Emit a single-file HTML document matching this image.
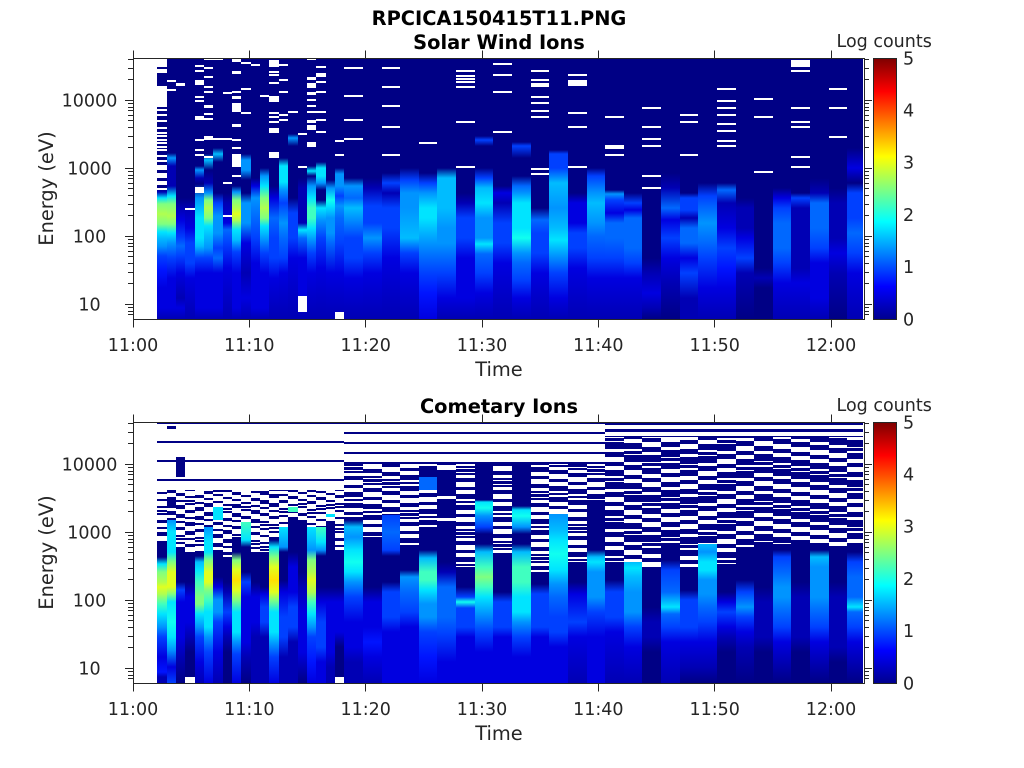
<!DOCTYPE html>
<html><head><meta charset="utf-8"><style>
html,body{margin:0;padding:0}
body{width:1024px;height:768px;position:relative;background:#fff;overflow:hidden}
.P{position:absolute;left:0;width:1024px;height:261px}
.P i{position:absolute;top:0;height:261px;display:block}
.bn{background:var(--c),repeating-linear-gradient(#000085 0 2px,#fff 2px 19px) 0 0/100% 68px no-repeat,repeating-linear-gradient(#000085 0 2px,#0000 2px 11px) 0 var(--p,0px),repeating-linear-gradient(#000085 0 2px,#fff 2px 7px) 0 var(--q,0px)}
.bw{background:var(--c),repeating-linear-gradient(#000085 0 2px,#fff 2px 10px) 0 0/100% 42px no-repeat,repeating-linear-gradient(#000085 0 3px,#0000 3px 9px) 0 var(--p,0px),repeating-linear-gradient(#000085 0 2px,#fff 2px 7px) 0 var(--q,0px)}
.bx{background:var(--c),repeating-linear-gradient(#000085 0 3px,#fff 3px 7px) 0 0/100% 15px no-repeat,repeating-linear-gradient(#000085 0 4px,#0000 4px 10px) 0 var(--p,0px),repeating-linear-gradient(#000085 0 3px,#fff 3px 8px) 0 var(--q,0px)}
.cb{position:absolute;left:873px;width:24px;height:262px;box-sizing:border-box;border:1px solid #262626;background:linear-gradient(to top,#00008f 0%,#0000ff 12.5%,#00ffff 37.5%,#ffff00 62.5%,#ff0000 87.5%,#800000 100%)}
svg{position:absolute;left:0;top:0}
text{font-family:"DejaVu Sans","Liberation Sans",sans-serif;fill:#262626}
.tt{font-weight:bold;font-size:19.4px;fill:#000;text-anchor:middle}
.tk{font-size:17.5px;text-anchor:middle}
.lb{font-size:19.4px;text-anchor:middle}
.cl{font-size:17.5px}
</style></head><body>

<div class="P" style="top:58px">
<i style="left:157px;width:10px;background:linear-gradient(#fff 0 9px,#0000 9px 11px,#fff 11px 15px,#0000 15px 28px,#fff 28px 49px,#0000 49px 51px,#fff 51px 53px,#0000 53px 56px,#fff 56px 58px,#0000 58px 62px,#fff 62px 64px,#0000 64px 69px,#fff 69px 71px,#0000 71px 74px,#fff 74px 76px,#0000 76px 77px,#fff 77px 79px,#0000 79px 81px,#fff 81px 83px,#0000 83px 84px,#fff 84px 86px,#0000 86px 88px,#fff 88px 90px,#0000 90px 91px,#fff 91px 93px,#0000 93px 97px,#fff 97px 99px,#0000 99px 102px,#fff 102px 104px,#0000 104px 107px,#fff 107px 112px,#0000 112px 115px,#fff 115px 120px,#0000 120px 123px,#fff 123px 127px,#0000 127px 130px,#fff 130px 132px,#0000 132px),linear-gradient(#000085 0 130px,#0000b4 134px,#00e4ff 140px,#80ff80 146px,#b0ff50 156px,#80ff80 166px,#00e4ff 174px,#00bcff 180px,#0094ff 188px,#0040ff 198px,#0014ff 212px,#0000e0 230px,#0000e0 250px,#0000b4 261px)"></i>
<i style="left:167px;width:9px;background:linear-gradient(#0000 0 22px,#fff 22px 24px,#0000 24px 31px,#fff 31px 33px,#0000 33px),linear-gradient(#000085 0 95px,#0094ff 100px,#0000b4 108px,#0000b4 128px,#00e4ff 138px,#80ff80 146px,#b0ff50 158px,#80ff80 166px,#00e4ff 175px,#0094ff 185px,#0040ff 200px,#0000e0 220px,#0000e0 250px,#0000b4 261px)"></i>
<i style="left:176px;width:9px;background:linear-gradient(#0000 0 25px,#fff 25px 28px,#0000 28px),linear-gradient(#000085 0 140px,#0000b4 150px,#0000e0 162px,#0040ff 180px,#0068ff 188px,#0040ff 198px,#0000e0 215px,#0000b4 240px,#0000e0 250px,#0000b4 261px)"></i>
<i style="left:185px;width:10px;background:linear-gradient(#0000 0 150px,#fff 150px 152px,#0000 152px),linear-gradient(#000085 0 140px,#0000b4 150px,#0000e0 170px,#0040ff 185px,#0040ff 205px,#0000e0 220px,#0000b4 261px)"></i>
<i style="left:195px;width:9px;background:linear-gradient(#0000 0 7px,#fff 7px 9px,#0000 9px 12px,#fff 12px 14px,#0000 14px 22px,#fff 22px 27px,#0000 27px 38px,#fff 38px 40px,#0000 40px 42px,#fff 42px 44px,#0000 44px 58px,#fff 58px 62px,#0000 62px 81px,#fff 81px 83px,#0000 83px 91px,#fff 91px 93px,#0000 93px 96px,#fff 96px 98px,#0000 98px 129px,#fff 129px 135px,#0000 135px),linear-gradient(#000085 0 108px,#0094ff 112px,#0000b4 120px,#000085 126px,#0094ff 140px,#00bcff 150px,#00e4ff 160px,#00e4ff 180px,#00bcff 188px,#0040ff 200px,#0000e0 215px,#0000e0 250px,#0000b4 261px)"></i>
<i style="left:204px;width:9px;background:linear-gradient(#fff 0 2px,#0000 2px 9px,#fff 9px 11px,#0000 11px 18px,#fff 18px 20px,#0000 20px 28px,#fff 28px 30px,#0000 30px 33px,#fff 33px 35px,#0000 35px 47px,#fff 47px 50px,#0000 50px 55px,#fff 55px 57px,#0000 57px 60px,#fff 60px 62px,#0000 62px 78px,#fff 78px 82px,#0000 82px 98px,#fff 98px 100px,#0000 100px),linear-gradient(#000085 0 96px,#00bcff 102px,#000085 112px,#0000b4 125px,#0094ff 135px,#80ff80 142px,#b0ff50 150px,#80ff80 160px,#00e4ff 168px,#00bcff 178px,#0094ff 190px,#0040ff 200px,#0000e0 215px,#0000e0 250px,#0000b4 261px)"></i>
<i style="left:213px;width:10px;background:linear-gradient(#fff 0 2px,#0000 2px 80px,#fff 80px 82px,#0000 82px),linear-gradient(#000085 0 90px,#00bcff 96px,#000085 104px 135px,#0040ff 145px,#0094ff 158px,#0094ff 175px,#0040ff 190px,#0068ff 200px,#0000e0 215px,#0000e0 250px,#0000b4 261px)"></i>
<i style="left:223px;width:9px;background:linear-gradient(#0000 0 34px,#fff 34px 36px,#0000 36px 80px,#fff 80px 82px,#0000 82px 124px,#fff 124px 126px,#0000 126px 157px,#fff 157px 159px,#0000 159px),linear-gradient(#000085 0 135px,#0000b4 145px,#0000e0 165px,#0068ff 172px,#0040ff 185px,#0000e0 210px,#0000b4 261px)"></i>
<i style="left:232px;width:9px;background:linear-gradient(#fff 0 4px,#0000 4px 13px,#fff 13px 16px,#0000 16px 33px,#fff 33px 35px,#0000 35px 38px,#fff 38px 41px,#0000 41px 45px,#fff 45px 54px,#0000 54px 66px,#fff 66px 69px,#0000 69px 81px,#fff 81px 83px,#0000 83px 89px,#fff 89px 91px,#0000 91px 96px,#fff 96px 109px,#0000 109px 117px,#fff 117px 119px,#0000 119px),linear-gradient(#000085 0 128px,#0094ff 134px,#80ff80 142px,#b0ff50 150px,#e0ff20 156px,#b0ff50 162px,#00e4ff 172px,#00bcff 182px,#0040ff 194px,#0000e0 215px,#0000e0 250px,#0000b4 261px)"></i>
<i style="left:241px;width:10px;background:linear-gradient(#0000 0 4px,#fff 4px 6px,#0000 6px 30px,#fff 30px 32px,#0000 32px 54px,#fff 54px 56px,#0000 56px),linear-gradient(#000085 0 96px,#0094ff 102px,#0094ff 112px,#000085 122px 135px,#0094ff 145px,#0094ff 165px,#0000e0 185px,#0000b4 215px,#0000e0 240px,#0000b4 261px)"></i>
<i style="left:251px;width:9px;background:linear-gradient(#0000 0 6px,#fff 6px 8px,#0000 8px),linear-gradient(#000085 0 120px,#0000e0 128px,#0094ff 140px,#0068ff 160px,#0040ff 180px,#0000e0 205px,#0000e0 250px,#0000b4 261px)"></i>
<i style="left:260px;width:9px;background:linear-gradient(#0000 0 37px,#fff 37px 39px,#0000 39px),linear-gradient(#000085 0 110px,#0094ff 118px,#00e4ff 128px,#80ff80 140px,#b0ff50 150px,#80ff80 160px,#00e4ff 168px,#00bcff 175px,#0040ff 195px,#0000e0 215px,#0000e0 250px,#0000b4 261px)"></i>
<i style="left:269px;width:10px;background:linear-gradient(#0000 0 2px,#fff 2px 9px,#0000 9px 13px,#fff 13px 15px,#0000 15px 16px,#fff 16px 18px,#0000 18px 24px,#fff 24px 26px,#0000 26px 38px,#fff 38px 44px,#0000 44px 54px,#fff 54px 56px,#0000 56px 58px,#fff 58px 60px,#0000 60px 63px,#fff 63px 65px,#0000 65px 70px,#fff 70px 75px,#0000 75px 94px,#fff 94px 100px,#0000 100px),linear-gradient(#000085 0 128px,#0000e0 140px,#0068ff 160px,#0040ff 180px,#0040ff 200px,#0000e0 220px,#0000b4 261px)"></i>
<i style="left:279px;width:9px;background:linear-gradient(#0000 0 6px,#fff 6px 8px,#0000 8px 21px,#fff 21px 23px,#0000 23px 33px,#fff 33px 35px,#0000 35px 56px,#fff 56px 58px,#0000 58px 61px,#fff 61px 63px,#0000 63px),linear-gradient(#000085 0 100px,#00e4ff 108px,#00e4ff 124px,#0094ff 132px,#0040ff 145px,#0094ff 165px,#0068ff 180px,#0040ff 200px,#0000e0 215px,#0000b4 261px)"></i>
<i style="left:288px;width:10px;background:linear-gradient(#0000 0 53px,#fff 53px 55px,#0000 55px),linear-gradient(#000085 0 76px,#0094ff 80px,#000085 88px 140px,#0040ff 155px,#0040ff 180px,#0000e0 200px,#0000b4 261px)"></i>
<i style="left:298px;width:9px;background:linear-gradient(#0000 0 75px,#fff 75px 77px,#0000 77px 108px,#fff 108px 110px,#0000 110px 238px,#fff 238px 254px,#0000 254px),linear-gradient(#000085 0 120px,#0000b4 130px,#0000b4 165px,#00e4ff 172px,#0068ff 180px,#0000e0 200px,#0000e0 235px,#0000b4 261px)"></i>
<i style="left:307px;width:9px;background:linear-gradient(#fff 0 2px,#0000 2px 19px,#fff 19px 22px,#0000 22px 25px,#fff 25px 30px,#0000 30px 34px,#fff 34px 37px,#0000 37px 41px,#fff 41px 43px,#0000 43px 47px,#fff 47px 49px,#0000 49px 53px,#fff 53px 55px,#0000 55px 62px,#fff 62px 65px,#0000 65px 67px,#fff 67px 72px,#0000 72px 84px,#fff 84px 89px,#0000 89px),linear-gradient(#000085 0 108px,#00e4ff 113px,#000085 118px,#0094ff 128px,#00e4ff 140px,#40ffc0 150px,#40ffc0 160px,#00e4ff 170px,#0094ff 182px,#0040ff 195px,#0000e0 215px,#0000b4 261px)"></i>
<i style="left:316px;width:10px;background:linear-gradient(#0000 0 8px,#fff 8px 10px,#0000 10px 15px,#fff 15px 19px,#0000 19px 23px,#fff 23px 25px,#0000 25px 33px,#fff 33px 35px,#0000 35px 53px,#fff 53px 55px,#0000 55px 61px,#fff 61px 63px,#0000 63px 73px,#fff 73px 75px,#0000 75px),linear-gradient(#000085 0 104px,#00e4ff 110px,#00e4ff 118px,#0094ff 125px,#000085 132px 142px,#00e4ff 150px,#0094ff 162px,#0040ff 180px,#0000e0 210px,#0000b4 261px)"></i>
<i style="left:326px;width:9px;background:linear-gradient(#000085 0 122px,#0094ff 130px,#10fff0 142px,#00e4ff 148px,#0094ff 160px,#0094ff 175px,#0068ff 185px,#0000e0 215px,#0000b4 261px)"></i>
<i style="left:335px;width:9px;background:linear-gradient(#0000 0 82px,#fff 82px 84px,#0000 84px 96px,#fff 96px 98px,#0000 98px 254px,#fff 254px),linear-gradient(#000085 0 110px,#0094ff 116px,#0094ff 128px,#0040ff 138px,#0094ff 148px,#0068ff 160px,#0040ff 185px,#0000e0 215px,#0000b4 261px)"></i>
<i style="left:344px;width:19px;background:linear-gradient(#0000 0 9px,#fff 9px 11px,#0000 11px 37px,#fff 37px 39px,#0000 39px 61px,#fff 61px 63px,#0000 63px 80px,#fff 80px 82px,#0000 82px),linear-gradient(#000085 0 120px,#0094ff 128px,#0068ff 140px,#00bcff 150px,#0094ff 160px,#0040ff 180px,#0040ff 200px,#0000e0 220px,#0000b4 261px)"></i>
<i style="left:363px;width:19px;background:linear-gradient(#000085 0 120px,#0000b4 130px,#0040ff 148px,#0040ff 165px,#0094ff 180px,#0040ff 195px,#0000e0 215px,#0000b4 261px)"></i>
<i style="left:382px;width:18px;background:linear-gradient(#0000 0 9px,#fff 9px 11px,#0000 11px 28px,#fff 28px 30px,#0000 30px 47px,#fff 47px 49px,#0000 49px 68px,#fff 68px 70px,#0000 70px 96px,#fff 96px 98px,#0000 98px),linear-gradient(#000085 0 115px,#0040ff 125px,#0000b4 135px,#0040ff 150px,#0040ff 170px,#0000e0 200px,#0000b4 261px)"></i>
<i style="left:400px;width:19px;background:linear-gradient(#000085 0 110px,#0040ff 122px,#0094ff 135px,#0094ff 150px,#00bcff 180px,#0040ff 195px,#0000e0 215px,#0000b4 261px)"></i>
<i style="left:419px;width:18px;background:linear-gradient(#0000 0 84px,#fff 84px 86px,#0000 86px),linear-gradient(#000085 0 115px,#0040ff 125px,#0094ff 135px,#00e4ff 150px,#00e4ff 160px,#00bcff 172px,#0094ff 185px,#0068ff 200px,#0040ff 215px,#0014ff 235px,#0000e0 261px)"></i>
<i style="left:437px;width:19px;background:linear-gradient(#000085 0 110px,#00bcff 120px,#00bcff 150px,#0094ff 170px,#0094ff 185px,#0068ff 200px,#0040ff 215px,#0000e0 240px,#0000b4 261px)"></i>
<i style="left:456px;width:19px;background:linear-gradient(#0000 0 12px,#fff 12px 14px,#0000 14px 17px,#fff 17px 19px,#0000 19px 20px,#fff 20px 22px,#0000 22px 23px,#fff 23px 25px,#0000 25px 28px,#fff 28px 30px,#0000 30px 63px,#fff 63px 65px,#0000 65px 108px,#fff 108px 110px,#0000 110px),linear-gradient(#000085 0 135px,#0000b4 145px,#0040ff 160px,#0040ff 180px,#0000e0 200px,#0000e0 240px,#0000b4 261px)"></i>
<i style="left:475px;width:18px;background:linear-gradient(#000085 0 78px,#0040ff 82px,#000085 88px 110px,#0040ff 120px,#00bcff 130px,#00e4ff 145px,#0094ff 160px,#0094ff 180px,#00e4ff 186px,#0068ff 196px,#0040ff 215px,#0000e0 235px,#0000b4 261px)"></i>
<i style="left:493px;width:19px;background:linear-gradient(#0000 0 5px,#fff 5px 7px,#0000 7px 16px,#fff 16px 18px,#0000 18px 33px,#fff 33px 35px,#0000 35px 73px,#fff 73px 75px,#0000 75px),linear-gradient(#000085 0 128px,#0000e0 135px,#0000b4 145px,#0040ff 165px,#0040ff 185px,#0000e0 205px,#0000b4 261px)"></i>
<i style="left:512px;width:19px;background:linear-gradient(#000085 0 84px,#0040ff 88px,#000085 100px 118px,#0068ff 128px,#0094ff 135px,#00e4ff 145px,#00e4ff 170px,#10fff0 180px,#0094ff 195px,#0068ff 205px,#0040ff 222px,#0000e0 240px,#0000b4 261px)"></i>
<i style="left:531px;width:18px;background:linear-gradient(#0000 0 12px,#fff 12px 14px,#0000 14px 21px,#fff 21px 23px,#0000 23px 25px,#fff 25px 29px,#0000 29px 38px,#fff 38px 40px,#0000 40px 44px,#fff 44px 46px,#0000 46px 52px,#fff 52px 54px,#0000 54px 58px,#fff 58px 60px,#0000 60px 110px,#fff 110px 112px,#0000 112px 115px,#fff 115px 117px,#0000 117px),linear-gradient(#000085 0 150px,#0068ff 162px,#0040ff 175px,#0040ff 195px,#0000e0 215px,#0000b4 261px)"></i>
<i style="left:549px;width:19px;background:linear-gradient(#000085 0 92px,#0040ff 96px,#0040ff 110px,#00bcff 125px,#0094ff 150px,#00bcff 170px,#00e4ff 182px,#0094ff 198px,#0040ff 215px,#0000e0 240px,#0000b4 261px)"></i>
<i style="left:568px;width:19px;background:linear-gradient(#0000 0 16px,#fff 16px 18px,#0000 18px 22px,#fff 22px 28px,#0000 28px 54px,#fff 54px 56px,#0000 56px 68px,#fff 68px 70px,#0000 70px 108px,#fff 108px 110px,#0000 110px),linear-gradient(#000085 0 135px,#0000e0 145px,#0000e0 165px,#0040ff 175px,#0040ff 190px,#0000e0 210px,#0000b4 261px)"></i>
<i style="left:587px;width:18px;background:linear-gradient(#000085 0 110px,#0040ff 118px,#0094ff 135px,#00bcff 145px,#0094ff 165px,#0068ff 178px,#0040ff 200px,#0000e0 220px,#0000b4 261px)"></i>
<i style="left:605px;width:19px;background:linear-gradient(#0000 0 58px,#fff 58px 60px,#0000 60px 87px,#fff 87px 91px,#0000 91px 96px,#fff 96px 98px,#0000 98px),linear-gradient(#000085 0 132px,#0094ff 136px,#0040ff 142px,#0000e0 155px,#0068ff 165px,#0068ff 180px,#0040ff 200px,#0000e0 220px,#0000b4 261px)"></i>
<i style="left:624px;width:18px;background:linear-gradient(#000085 0 135px,#0040ff 145px,#0000e0 152px,#0068ff 160px,#0068ff 190px,#0040ff 205px,#0000e0 220px,#0000b4 261px)"></i>
<i style="left:642px;width:19px;background:linear-gradient(#0000 0 49px,#fff 49px 51px,#0000 51px 68px,#fff 68px 70px,#0000 70px 80px,#fff 80px 82px,#0000 82px 87px,#fff 87px 89px,#0000 89px 117px,#fff 117px 119px,#0000 119px 129px,#fff 129px 131px,#0000 131px),linear-gradient(#000085 0 200px,#0000b4 215px,#0000e0 235px,#0000b4 250px,#000085 261px)"></i>
<i style="left:661px;width:19px;background:linear-gradient(#000085 0 115px,#0000b4 130px,#0068ff 150px,#0000e0 162px,#0040ff 180px,#0000e0 200px,#0000b4 225px,#000085 261px)"></i>
<i style="left:680px;width:18px;background:linear-gradient(#0000 0 56px,#fff 56px 58px,#0000 58px 63px,#fff 63px 65px,#0000 65px 96px,#fff 96px 98px,#0000 98px),linear-gradient(#000085 0 135px,#0040ff 140px,#0040ff 152px,#0000b4 160px,#0068ff 170px,#0068ff 185px,#0000e0 200px,#0040ff 215px,#0000b4 240px,#0000b4 261px)"></i>
<i style="left:698px;width:19px;background:linear-gradient(#000085 0 125px,#0040ff 138px,#0068ff 150px,#0094ff 165px,#0068ff 185px,#0040ff 200px,#0000e0 230px,#0000b4 261px)"></i>
<i style="left:717px;width:19px;background:linear-gradient(#0000 0 30px,#fff 30px 32px,#0000 32px 42px,#fff 42px 44px,#0000 44px 49px,#fff 49px 51px,#0000 51px 56px,#fff 56px 58px,#0000 58px 65px,#fff 65px 67px,#0000 67px 72px,#fff 72px 74px,#0000 74px 82px,#fff 82px 84px,#0000 84px 87px,#fff 87px 89px,#0000 89px),linear-gradient(#000085 0 125px,#0068ff 132px,#0000b4 145px,#0000e0 170px,#0040ff 190px,#0014ff 210px,#0000e0 230px,#0000b4 261px)"></i>
<i style="left:736px;width:18px;background:linear-gradient(#000085 0 140px,#0000b4 150px,#0000b4 170px,#0000e0 180px,#0040ff 200px,#0000b4 215px,#000085 261px)"></i>
<i style="left:754px;width:19px;background:linear-gradient(#0000 0 40px,#fff 40px 42px,#0000 42px 58px,#fff 58px 60px,#0000 60px 113px,#fff 113px 115px,#0000 115px),linear-gradient(#000085 0 210px,#0000b4 220px,#000085 230px 261px)"></i>
<i style="left:773px;width:18px;background:linear-gradient(#000085 0 130px,#0000e0 140px,#0040ff 150px,#0068ff 165px,#0068ff 190px,#0040ff 205px,#0000e0 225px,#0000b4 261px)"></i>
<i style="left:791px;width:19px;background:linear-gradient(#0000 0 2px,#fff 2px 9px,#0000 9px 12px,#fff 12px 14px,#0000 14px 49px,#fff 49px 51px,#0000 51px 63px,#fff 63px 65px,#0000 65px 68px,#fff 68px 70px,#0000 70px 98px,#fff 98px 100px,#0000 100px 108px,#fff 108px 110px,#0000 110px),linear-gradient(#000085 0 135px,#0040ff 140px,#0000b4 150px,#0000b4 210px,#0000e0 225px,#0000b4 261px)"></i>
<i style="left:810px;width:19px;background:linear-gradient(#000085 0 120px,#0000b4 135px,#0068ff 145px,#0068ff 170px,#0040ff 190px,#0000e0 205px,#0000e0 240px,#0000b4 261px)"></i>
<i style="left:829px;width:18px;background:linear-gradient(#0000 0 30px,#fff 30px 32px,#0000 32px 49px,#fff 49px 51px,#0000 51px 78px,#fff 78px 80px,#0000 80px),linear-gradient(#000085 0 130px,#0000b4 145px,#0000b4 180px,#0000e0 195px,#0000b4 215px,#000085 261px)"></i>
<i style="left:847px;width:16px;background:linear-gradient(#000085 0 90px,#0000e0 110px,#000085 125px,#0040ff 135px,#0040ff 160px,#0068ff 175px,#0040ff 195px,#0000e0 215px,#0000b4 261px)"></i>
</div>

<div class="P" style="top:422px">
<i class="bn" style="left:157px;width:10px;--p:0px;--q:0px;--c:linear-gradient(#0000 0 123px,#000085 123px 135px,#00e4ff 142px,#80ff80 150px,#b0ff50 160px,#e0ff20 165px,#b0ff50 172px,#40ffc0 182px,#00e4ff 192px,#0094ff 205px,#0040ff 215px,#0000e0 235px,#0014ff 250px,#0000b4 255px,#0000b4 261px)"></i>
<i class="bn" style="left:167px;width:9px;--p:3px;--q:5px;--c:linear-gradient(#0000 0 4px,#000085 4px 7px,#0000 7px 76px,#000085 76px 86px,#0000 86px 98px,#0094ff 98px,#00e4ff 110px,#00e4ff 130px,#80ff80 140px,#e0ff20 150px,#e0ff20 165px,#80ff80 172px,#00e4ff 180px,#10fff0 200px,#00e4ff 215px,#0094ff 228px,#0000e0 245px,#0040ff 261px)"></i>
<i class="bn" style="left:176px;width:9px;--p:6px;--q:1px;--c:linear-gradient(#0000 0 35px,#000085 35px 55px,#0000 55px 125px,#000085 125px 160px,#0040ff 168px,#0000e0 180px,#0000e0 215px,#0000b4 235px,#000085 261px)"></i>
<i class="bn" style="left:185px;width:10px;--p:1px;--q:4px;--c:linear-gradient(#0000 0 130px,#000085 130px 160px,#0000e0 175px,#0000e0 200px,#0000b4 215px,#000085 230px 255px,#fff 255px)"></i>
<i class="bn" style="left:195px;width:9px;--p:8px;--q:3px;--c:linear-gradient(#0000 0 130px,#000085 130px 134px,#00bcff 140px,#00e4ff 148px,#40ffc0 160px,#80ff80 175px,#80ff80 182px,#00e4ff 192px,#0094ff 205px,#0040ff 215px,#0000e0 240px,#0000b4 261px)"></i>
<i class="bn" style="left:204px;width:9px;--p:4px;--q:6px;--c:linear-gradient(#0000 0 105px,#0094ff 105px,#00e4ff 120px,#00e4ff 130px,#80ff80 138px,#e0ff20 150px,#e0ff20 160px,#80ff80 168px,#40ffc0 178px,#00e4ff 190px,#00e4ff 205px,#0094ff 215px,#0040ff 230px,#0000e0 261px)"></i>
<i class="bn" style="left:213px;width:10px;--p:2px;--q:2px;--c:linear-gradient(#0000 0 85px,#00e4ff 85px 98px,#0000 98px 130px,#000085 130px 155px,#0000e0 165px,#0094ff 178px,#0094ff 190px,#0040ff 200px,#0000e0 230px,#0000b4 261px)"></i>
<i class="bn" style="left:223px;width:9px;--p:9px;--q:5px;--c:linear-gradient(#0000 0 135px,#000085 135px 160px,#0000b4 170px,#0040ff 190px,#0000e0 205px,#0000b4 215px,#000085 230px 261px)"></i>
<i class="bn" style="left:232px;width:9px;--p:5px;--q:0px;--c:linear-gradient(#0000 0 115px,#000085 115px 130px,#80ff80 138px,#e0ff20 148px,#ffe000 158px,#e0ff20 168px,#80ff80 178px,#00e4ff 190px,#00e4ff 210px,#0094ff 220px,#0040ff 232px,#0000e0 261px)"></i>
<i class="bn" style="left:241px;width:10px;--p:7px;--q:3px;--c:linear-gradient(#0000 0 100px,#40ffc0 100px,#00e4ff 118px,#000085 125px 150px,#0040ff 160px,#0000e0 175px,#0000e0 220px,#0000b4 235px,#000085 261px)"></i>
<i class="bn" style="left:251px;width:9px;--p:0px;--q:6px;--c:linear-gradient(#0000 0 130px,#000085 130px 160px,#0000e0 175px,#0000e0 200px,#0000b4 215px,#0000b4 261px)"></i>
<i class="bn" style="left:260px;width:9px;--p:3px;--q:1px;--c:linear-gradient(#0000 0 130px,#000085 130px 165px,#0000e0 172px,#0040ff 185px,#0040ff 200px,#0000b4 215px,#0000b4 261px)"></i>
<i class="bn" style="left:269px;width:10px;--p:6px;--q:4px;--c:linear-gradient(#0000 0 115px,#000085 115px 118px,#00e4ff 125px,#80ff80 135px,#e0ff20 145px,#ffe000 158px,#e0ff20 170px,#80ff80 178px,#00e4ff 190px,#00e4ff 210px,#0094ff 222px,#0040ff 235px,#0000e0 261px)"></i>
<i class="bn" style="left:279px;width:9px;--p:1px;--q:2px;--c:linear-gradient(#0000 0 105px,#00e4ff 105px,#0094ff 125px,#000085 130px 158px,#0000e0 170px,#0040ff 195px,#0040ff 215px,#0000b4 235px,#0000b4 261px)"></i>
<i class="bn" style="left:288px;width:10px;--p:8px;--q:5px;--c:linear-gradient(#0000 0 85px,#40ffc0 85px 90px,#0000 90px 95px,#000085 95px 130px,#0000e0 145px,#0000e0 170px,#0040ff 185px,#0040ff 205px,#0000b4 220px,#0000b4 261px)"></i>
<i class="bn" style="left:298px;width:9px;--p:4px;--q:0px;--c:linear-gradient(#0000 0 100px,#000085 100px 150px,#0000b4 165px,#0000e0 190px,#0000e0 230px,#0000b4 245px,#000085 261px)"></i>
<i class="bn" style="left:307px;width:9px;--p:2px;--q:3px;--c:linear-gradient(#0000 0 105px,#00e4ff 105px,#00bcff 118px,#0094ff 128px,#80ff80 138px,#b0ff50 150px,#e0ff20 158px,#b0ff50 170px,#40ffc0 180px,#00e4ff 192px,#0094ff 205px,#0040ff 215px,#0014ff 240px,#0000e0 261px)"></i>
<i class="bn" style="left:316px;width:10px;--p:9px;--q:6px;--c:linear-gradient(#0000 0 105px,#40ffc0 105px,#00e4ff 120px,#0094ff 128px,#000085 134px 165px,#0000e0 180px,#0040ff 200px,#0040ff 225px,#0000e0 240px,#0000e0 261px)"></i>
<i class="bn" style="left:326px;width:9px;--p:5px;--q:1px;--c:linear-gradient(#0000 0 92px,#00e4ff 92px 95px,#0000 95px 100px,#000085 100px 165px,#0000e0 180px,#0000e0 230px,#0000b4 245px,#0000b4 261px)"></i>
<i class="bn" style="left:335px;width:9px;--p:7px;--q:4px;--c:linear-gradient(#0000 0 130px,#000085 130px 165px,#0000e0 180px,#0000e0 210px,#000085 225px 255px,#fff 255px)"></i>

<i class="bw" style="left:344px;width:19px;--p:0px;--q:0px;--c:linear-gradient(#0000 0 95px,#000085 95px 98px,#00bcff 105px,#0094ff 115px,#00e4ff 128px,#10fff0 140px,#00e4ff 150px,#0094ff 160px,#0040ff 175px,#0000e0 200px,#0000e0 225px,#0000b4 240px,#0000b4 261px)"></i>
<i class="bw" style="left:363px;width:19px;--p:3px;--q:5px;--c:linear-gradient(#0000 0 115px,#000085 115px 165px,#0000e0 180px,#0000e0 205px,#0014ff 220px,#0000e0 235px,#0000b4 261px)"></i>
<i class="bw" style="left:382px;width:18px;--p:6px;--q:1px;--c:linear-gradient(#0000 0 93px,#0040ff 93px,#0068ff 110px,#0040ff 128px,#000085 134px 160px,#0040ff 170px,#0040ff 195px,#0000e0 210px,#0000e0 261px)"></i>
<i class="bw" style="left:400px;width:19px;--p:1px;--q:4px;--c:linear-gradient(#0000 0 125px,#000085 125px 148px,#0094ff 155px,#0068ff 170px,#0040ff 190px,#0000e0 205px,#0000e0 261px)"></i>
<i class="bw" style="left:419px;width:18px;--p:8px;--q:3px;--c:linear-gradient(#0000 0 45px,#000085 45px 55px,#0068ff 55px 68px,#0000 68px 105px,#000085 105px 128px,#00bcff 136px,#40ffc0 150px,#40ffc0 158px,#00e4ff 168px,#0094ff 182px,#0094ff 195px,#0040ff 210px,#0014ff 235px,#0000e0 261px)"></i>
<i class="bw" style="left:437px;width:19px;--p:4px;--q:6px;--c:linear-gradient(#0000 0 50px,#000085 50px 74px,#fff 74px 77px,#000085 77px 96px,#fff 96px 99px,#000085 99px 140px,#0000b4 150px,#0068ff 165px,#0068ff 195px,#0040ff 212px,#0000e0 240px,#0000e0 261px)"></i>
<i class="bw" style="left:456px;width:19px;--p:2px;--q:2px;--c:linear-gradient(#0000 0 145px,#000085 145px 165px,#0040ff 175px,#10fff0 180px,#0040ff 186px,#0040ff 205px,#0000e0 215px,#0000e0 261px)"></i>
<i class="bw" style="left:475px;width:18px;--p:7px;--q:5px;--c:linear-gradient(#0000 0 40px,#000085 40px 78px,#00e4ff 80px,#10fff0 86px,#0094ff 94px,#0040ff 105px,#000085 112px 122px,#00bcff 130px,#40ffc0 145px,#80ff80 155px,#40ffc0 165px,#00e4ff 175px,#0094ff 192px,#0040ff 210px,#0000e0 230px,#0000e0 261px)"></i>
<i class="bw" style="left:493px;width:19px;--p:5px;--q:0px;--c:linear-gradient(#0000 0 135px,#000085 135px 170px,#0040ff 180px,#0040ff 205px,#0000e0 215px,#0000e0 261px)"></i>
<i class="bw" style="left:512px;width:19px;--p:1px;--q:3px;--c:linear-gradient(#0000 0 40px,#000085 40px 84px,#00e4ff 88px,#10fff0 94px,#0094ff 105px,#000085 112px 122px,#00bcff 130px,#40ffc0 145px,#40ffc0 160px,#00e4ff 175px,#00e4ff 190px,#0094ff 200px,#0040ff 215px,#0000e0 235px,#0000e0 261px)"></i>
<i class="bw" style="left:531px;width:18px;--p:0px;--q:6px;--c:linear-gradient(#0000 0 150px,#000085 150px 162px,#0040ff 172px,#0040ff 205px,#0000e0 215px,#0000e0 261px)"></i>
<i class="bw" style="left:549px;width:19px;--p:3px;--q:1px;--c:linear-gradient(#0000 0 92px,#0094ff 92px,#00bcff 108px,#00e4ff 118px,#10fff0 132px,#00e4ff 148px,#0094ff 162px,#0068ff 175px,#0040ff 195px,#0040ff 210px,#0000e0 225px,#0000e0 261px)"></i>
<i class="bw" style="left:568px;width:19px;--p:6px;--q:4px;--c:linear-gradient(#0000 0 140px,#000085 140px 160px,#0000e0 172px,#0040ff 200px,#0000e0 215px,#0000b4 261px)"></i>
<i class="bw" style="left:587px;width:18px;--p:2px;--q:2px;--c:linear-gradient(#0000 0 78px,#000085 78px 128px,#00bcff 135px,#00e4ff 140px,#0094ff 150px,#0094ff 175px,#0040ff 190px,#0000e0 215px,#0000e0 261px)"></i>

<i class="bx" style="left:605px;width:19px;--p:0px;--q:0px;--c:linear-gradient(#0000 0 145px,#000085 145px 158px,#0040ff 170px,#0040ff 195px,#0000e0 210px,#0000b4 261px)"></i>
<i class="bx" style="left:624px;width:18px;--p:3px;--q:5px;--c:linear-gradient(#0000 0 140px,#00bcff 140px,#00e4ff 146px,#00bcff 155px,#0094ff 170px,#0094ff 190px,#0040ff 205px,#0000e0 225px,#0000b4 261px)"></i>
<i class="bx" style="left:642px;width:19px;--p:6px;--q:1px;--c:linear-gradient(#0000 0 150px,#000085 150px 185px,#0000b4 200px,#0000b4 215px,#000085 230px 261px)"></i>
<i class="bx" style="left:661px;width:19px;--p:1px;--q:4px;--c:linear-gradient(#0000 0 125px,#000085 125px 138px,#0040ff 148px,#0068ff 170px,#00e4ff 185px,#0068ff 192px,#0040ff 205px,#0000e0 220px,#0000b4 261px)"></i>
<i class="bx" style="left:680px;width:18px;--p:8px;--q:3px;--c:linear-gradient(#0000 0 145px,#000085 145px 168px,#0040ff 178px,#0040ff 205px,#0000e0 220px,#0000b4 245px,#000085 261px)"></i>
<i class="bx" style="left:698px;width:19px;--p:4px;--q:6px;--c:linear-gradient(#0000 0 122px,#00bcff 122px,#0094ff 130px,#00e4ff 140px,#00e4ff 148px,#0094ff 158px,#0094ff 172px,#0068ff 185px,#0040ff 200px,#0000e0 220px,#0000b4 245px,#000085 261px)"></i>
<i class="bx" style="left:717px;width:19px;--p:2px;--q:2px;--c:linear-gradient(#0000 0 145px,#000085 145px 170px,#0000e0 180px,#0040ff 190px,#0000e0 205px,#0000b4 215px,#000085 230px 261px)"></i>
<i class="bx" style="left:736px;width:18px;--p:9px;--q:5px;--c:linear-gradient(#0000 0 128px,#000085 128px 158px,#0040ff 170px,#0094ff 185px,#0040ff 195px,#0000e0 210px,#0000b4 225px,#000085 261px)"></i>
<i class="bx" style="left:754px;width:19px;--p:5px;--q:0px;--c:linear-gradient(#0000 0 122px,#000085 122px 165px,#0000b4 180px,#0000b4 215px,#000085 230px 261px)"></i>
<i class="bx" style="left:773px;width:18px;--p:7px;--q:3px;--c:linear-gradient(#0000 0 122px,#000085 122px 128px,#0040ff 135px,#0068ff 150px,#0094ff 165px,#0094ff 175px,#0068ff 190px,#0040ff 205px,#0000e0 220px,#0000b4 240px,#000085 261px)"></i>
<i class="bx" style="left:791px;width:19px;--p:0px;--q:6px;--c:linear-gradient(#0000 0 122px,#000085 122px 160px,#0000b4 175px,#0000b4 215px,#000085 230px 261px)"></i>
<i class="bx" style="left:810px;width:19px;--p:3px;--q:1px;--c:linear-gradient(#0000 0 122px,#000085 122px 128px,#00bcff 135px,#0094ff 145px,#0094ff 175px,#0068ff 190px,#0040ff 205px,#0000e0 220px,#0000b4 240px,#000085 261px)"></i>
<i class="bx" style="left:829px;width:18px;--p:6px;--q:4px;--c:linear-gradient(#0000 0 125px,#000085 125px 160px,#0000b4 175px,#0000b4 225px,#000085 240px 261px)"></i>
<i class="bx" style="left:847px;width:16px;--p:1px;--q:2px;--c:linear-gradient(#0000 0 125px,#000085 125px 130px,#0040ff 140px,#0068ff 155px,#0068ff 175px,#00e4ff 185px,#0068ff 190px,#0040ff 205px,#0000e0 220px,#0000b4 240px,#000085 261px)"></i>
</div>

<div class="cb" style="top:58px"></div>
<div class="cb" style="top:422px"></div>

<svg width="1024" height="768" viewBox="0 0 1024 768" xmlns="http://www.w3.org/2000/svg">
<g id="ax" fill="none" stroke="#262626" stroke-width="1">
<rect x="133.5" y="58.5" width="731" height="261"/>
<path d="M133.5 58.5V50.5M249.5 58.5V50.5M365.5 58.5V50.5M482.5 58.5V50.5M598.5 58.5V50.5M714.5 58.5V50.5M831.5 58.5V50.5M133.5 319.5V327.5M249.5 319.5V327.5M365.5 319.5V327.5M482.5 319.5V327.5M598.5 319.5V327.5M714.5 319.5V327.5M831.5 319.5V327.5"/>
<path d="M125 304.5H133M125 236.5H133M125 168.5H133M125 100.5H133M865 304.5H872M865 236.5H872M865 168.5H872M865 100.5H872"/>
<path d="M128 314.5H133M128 311.5H133M128 307.5H133M128 283.5H133M128 272.5H133M128 263.5H133M128 256.5H133M128 251.5H133M128 246.5H133M128 243.5H133M128 239.5H133M128 215.5H133M128 204.5H133M128 195.5H133M128 188.5H133M128 183.5H133M128 178.5H133M128 175.5H133M128 171.5H133M128 147.5H133M128 136.5H133M128 127.5H133M128 120.5H133M128 115.5H133M128 110.5H133M128 107.5H133M128 103.5H133M128 79.5H133M128 68.5H133M128 59.5H133"/>
<path d="M865 314.5H869M865 311.5H869M865 307.5H869M865 283.5H869M865 272.5H869M865 263.5H869M865 256.5H869M865 251.5H869M865 246.5H869M865 243.5H869M865 239.5H869M865 215.5H869M865 204.5H869M865 195.5H869M865 188.5H869M865 183.5H869M865 178.5H869M865 175.5H869M865 171.5H869M865 147.5H869M865 136.5H869M865 127.5H869M865 120.5H869M865 115.5H869M865 110.5H869M865 107.5H869M865 103.5H869M865 79.5H869M865 68.5H869M865 59.5H869"/>
</g>
<use href="#ax" x="0" y="364"/>

<text class="tt" x="499" y="25">RPCICA150415T11.PNG</text>
<text class="tt" x="499" y="49">Solar Wind Ions</text>
<text class="tt" x="499" y="413">Cometary Ions</text>

<text class="cl" x="836.5" y="47">Log counts</text>
<text class="cl" x="836.5" y="411">Log counts</text>

<text class="tk" x="133" y="351">11:00</text>
<text class="tk" x="249.3" y="351">11:10</text>
<text class="tk" x="365.7" y="351">11:20</text>
<text class="tk" x="482" y="351">11:30</text>
<text class="tk" x="598.3" y="351">11:40</text>
<text class="tk" x="714.7" y="351">11:50</text>
<text class="tk" x="831" y="351">12:00</text>
<text class="tk" x="133" y="715">11:00</text>
<text class="tk" x="249.3" y="715">11:10</text>
<text class="tk" x="365.7" y="715">11:20</text>
<text class="tk" x="482" y="715">11:30</text>
<text class="tk" x="598.3" y="715">11:40</text>
<text class="tk" x="714.7" y="715">11:50</text>
<text class="tk" x="831" y="715">12:00</text>

<text class="lb" x="499" y="376">Time</text>
<text class="lb" x="499" y="740">Time</text>

<text class="tk" x="89.5" y="106.3">10000</text>
<text class="tk" x="89.5" y="174.3">1000</text>
<text class="tk" x="89.5" y="242.3">100</text>
<text class="tk" x="89.5" y="310.3">10</text>
<text class="tk" x="89.5" y="470.3">10000</text>
<text class="tk" x="89.5" y="538.3">1000</text>
<text class="tk" x="89.5" y="606.3">100</text>
<text class="tk" x="89.5" y="674.3">10</text>

<text class="lb" transform="translate(53,188.5) rotate(-90)">Energy (eV)</text>
<text class="lb" transform="translate(53,552.5) rotate(-90)">Energy (eV)</text>

<text class="cl" x="903" y="64.3">5</text>
<text class="cl" x="903" y="116.5">4</text>
<text class="cl" x="903" y="168.7">3</text>
<text class="cl" x="903" y="220.9">2</text>
<text class="cl" x="903" y="273.1">1</text>
<text class="cl" x="903" y="325.3">0</text>
<text class="cl" x="903" y="428.3">5</text>
<text class="cl" x="903" y="480.5">4</text>
<text class="cl" x="903" y="532.7">3</text>
<text class="cl" x="903" y="584.9">2</text>
<text class="cl" x="903" y="637.1">1</text>
<text class="cl" x="903" y="689.3">0</text>
</svg>
</body></html>
